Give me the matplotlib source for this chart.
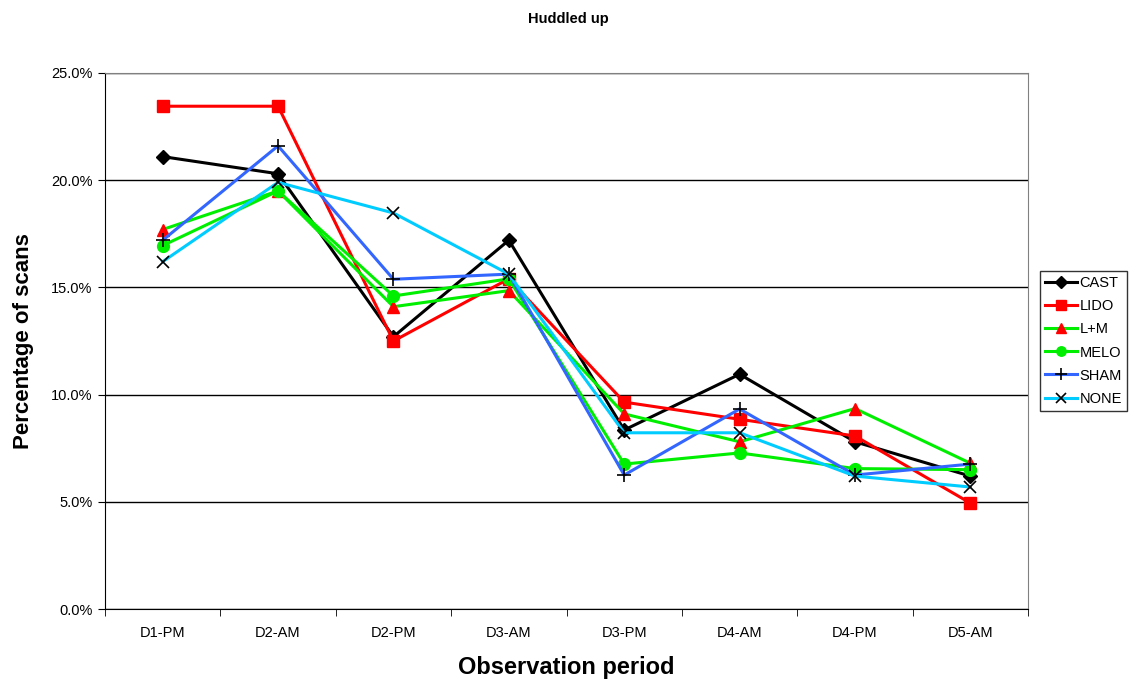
import numpy as np
import matplotlib
matplotlib.use('Agg')
import matplotlib.pyplot as plt
from matplotlib.ticker import FuncFormatter, FixedLocator

plt.rcParams['font.family'] = ['Liberation Sans', 'DejaVu Sans']

periods = ['D1-PM', 'D2-AM', 'D2-PM', 'D3-AM', 'D3-PM', 'D4-AM', 'D4-PM', 'D5-AM']

cast = [21.1, 20.3, 12.7, 17.2, 8.35, 10.95, 7.8, 6.2]
lido = [23.45, 23.45, 12.5, 15.4, 9.65, 8.85, 8.07, 4.94]
lm = [17.7, 19.5, 14.1, 14.85, 9.1, 7.8, 9.35, 6.8]
melo = [16.95, 19.5, 14.6, 15.4, 6.76, 7.28, 6.55, 6.5]
sham = [17.2, 21.6, 15.38, 15.62, 6.25, 9.33, 6.25, 6.76]
none = [16.2, 19.9, 18.47, 15.62, 8.22, 8.22, 6.2, 5.69]

x = np.arange(len(periods))

fig = plt.figure(figsize=(11.36, 6.86), dpi=100)
ax = fig.add_axes([0.0924, 0.1122, 0.8126, 0.7814])

lw = 2.2
ax.plot(x, cast, color='black', lw=lw, marker='D', ms=7.5, mfc='black', mec='black', label='CAST', zorder=3)
ax.plot(x, lido, color='#FF0000', lw=lw, marker='s', ms=8.5, mfc='#FF0000', mec='#FF0000', label='LIDO', zorder=3)
ax.plot(x, lm, color='#00EE00', lw=lw, marker='^', ms=8.5, mfc='#FF0000', mec='#FF0000', label='L+M', zorder=3)
ax.plot(x, melo, color='#00EE00', lw=lw, marker='o', ms=8.5, mfc='#00EE00', mec='#00EE00', label='MELO', zorder=3)
ax.plot(x, sham, color='#3366FF', lw=lw, marker='+', ms=10, mew=1.2, mec='black', label='SHAM', zorder=3)
ax.plot(x, none, color='#00CCFF', lw=lw, marker='x', ms=8.5, mew=1.2, mec='black', label='NONE', zorder=3)

ax.set_xlim(-0.5, len(periods) - 0.5)
ax.set_ylim(0, 25)
ax.set_yticks(np.arange(0, 26, 5))
ax.yaxis.set_major_formatter(FuncFormatter(lambda v, p: f'{v:.1f}%'))
ax.grid(axis='y', color='black', lw=1)
ax.set_axisbelow(True)

ax.set_xticks(x)
ax.set_xticklabels(periods)
ax.xaxis.set_minor_locator(FixedLocator(np.arange(-0.5, len(periods), 1)))
ax.tick_params(axis='x', which='major', length=0, pad=12, labelsize=10.5)
ax.tick_params(axis='x', which='minor', length=5, direction='out')
ax.tick_params(axis='y', length=5, direction='out', labelsize=10.5, pad=4)

ax.spines['top'].set_color('#808080')
ax.spines['right'].set_color('#808080')
ax.spines['left'].set_color('black')
ax.spines['bottom'].set_color('black')

ax.set_xlabel('Observation period', fontsize=17, fontweight='bold', labelpad=12)
ax.set_ylabel('Percentage of scans', fontsize=16, fontweight='bold', labelpad=12)
fig.suptitle('Huddled up', fontsize=10.5, fontweight='bold', y=0.982)

leg = ax.legend(loc='center left', bbox_to_anchor=(1.013, 0.5), frameon=True, fancybox=False,
                edgecolor='black', fontsize=10.5, handlelength=2.2, borderpad=0.35,
                labelspacing=0.62, handletextpad=0.15, borderaxespad=0, markerscale=0.8)
leg.get_frame().set_linewidth(1)

fig.savefig('out.png', dpi=100)
